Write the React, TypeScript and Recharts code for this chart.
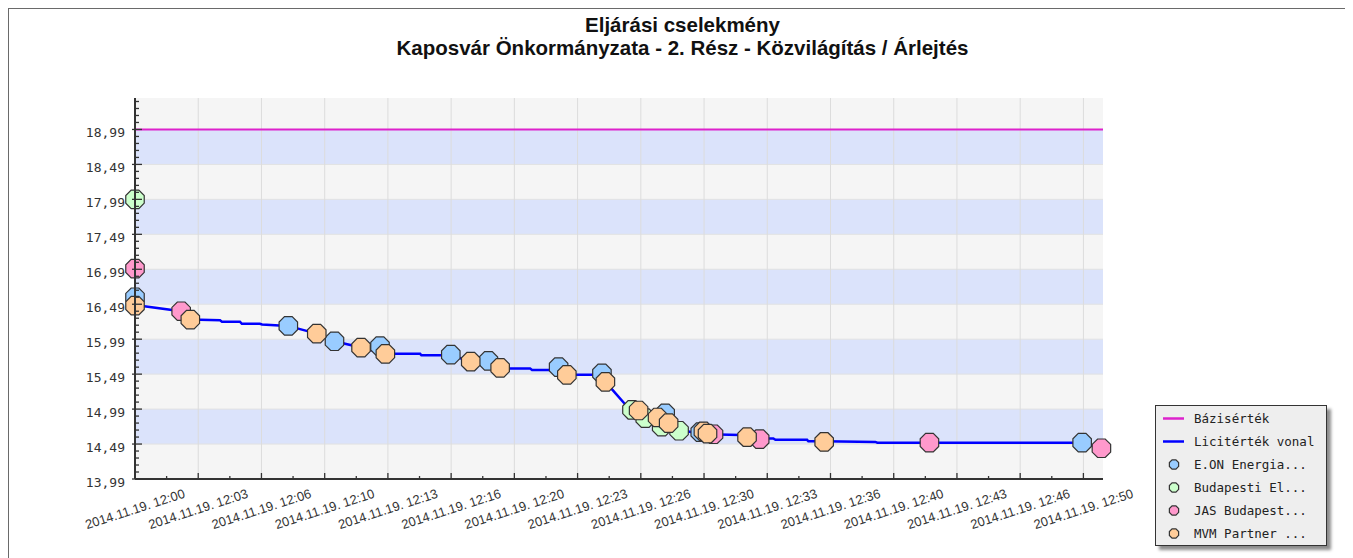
import React from 'react';
import {
  ComposedChart,
  Line,
  Scatter,
  XAxis,
  YAxis,
  ReferenceArea,
  ReferenceLine,
  Legend,
} from 'recharts';

const chartTitle = 'Eljárási cselekmény';
const chartSubtitle = 'Kaposvár Önkormányzata - 2. Rész - Közvilágítás / Árlejtés';

// Bázisérték
const baseValue = 18.99;

// Licitérték vonal (running best bid)
const licitTimes = [
  '12:00:00', '12:02:26', '12:02:54', '12:04:29', '12:04:35', '12:05:32', '12:05:38', '12:06:35',
  '12:06:42', '12:08:04', '12:09:35', '12:10:31', '12:11:55', '12:13:12', '12:15:02', '12:15:06',
  '12:16:39', '12:17:42', '12:18:38', '12:19:17', '12:20:50', '12:20:56', '12:22:19', '12:22:46',
  '12:24:10', '12:24:48', '12:25:56', '12:26:32', '12:27:32', '12:28:07', '12:28:41', '12:29:48',
  '12:30:10', '12:31:55', '12:32:16', '12:32:56', '12:33:39', '12:33:46', '12:35:26', '12:35:30',
  '12:36:20', '12:39:02', '12:39:08', '12:49:56', '12:50:57',
];
const licitValues = [
  16.48, 16.39, 16.27, 16.26, 16.24, 16.24, 16.21, 16.21,
  16.2, 16.18, 16.07, 15.96, 15.87, 15.78, 15.78, 15.76,
  15.76, 15.67, 15.67, 15.57, 15.57, 15.55, 15.55, 15.48,
  15.48, 15.38, 15.03, 14.97, 14.87, 14.78, 14.69, 14.64,
  14.63, 14.62, 14.59, 14.57, 14.57, 14.55, 14.55, 14.53,
  14.53, 14.52, 14.51, 14.51, 14.43,
];

// bidders
const eonTimes = ['12:00:00', '12:08:05', '12:10:31', '12:12:55', '12:16:39', '12:18:38', '12:22:20', '12:24:37', '12:27:57', '12:29:48', '12:49:56'];
const eonValues = [16.59, 16.18, 15.96, 15.89, 15.77, 15.68, 15.59, 15.5, 14.93, 14.66, 14.51];

const budTimes = ['12:00:00', '12:26:12', '12:26:54', '12:27:46', '12:28:41'];
const budValues = [17.99, 14.98, 14.86, 14.74, 14.68];

const jasTimes = ['12:00:00', '12:02:26', '12:30:30', '12:32:56', '12:41:53', '12:50:57'];
const jasValues = [17.0, 16.39, 14.63, 14.56, 14.51, 14.43];

const mvmTimes = [
  '12:00:00', '12:02:55', '12:09:35', '12:11:55', '12:13:12', '12:17:42', '12:19:15', '12:22:46',
  '12:24:48', '12:26:33', '12:27:33', '12:28:08', '12:29:58', '12:30:11', '12:32:16', '12:36:20',
];
const mvmValues = [16.47, 16.27, 16.07, 15.87, 15.78, 15.67, 15.58, 15.48, 15.38, 14.97, 14.87, 14.79, 14.67, 14.64, 14.59, 14.52];

// axes
const xTickTimes = [
  '12:00:00', '12:03:20', '12:06:40', '12:10:00', '12:13:20', '12:16:40', '12:20:00', '12:23:20',
  '12:26:40', '12:30:00', '12:33:20', '12:36:40', '12:40:00', '12:43:20', '12:46:40', '12:50:00',
];
const xTickLabels = [
  '2014.11.19. 12:00', '2014.11.19. 12:03', '2014.11.19. 12:06', '2014.11.19. 12:10',
  '2014.11.19. 12:13', '2014.11.19. 12:16', '2014.11.19. 12:20', '2014.11.19. 12:23',
  '2014.11.19. 12:26', '2014.11.19. 12:30', '2014.11.19. 12:33', '2014.11.19. 12:36',
  '2014.11.19. 12:40', '2014.11.19. 12:43', '2014.11.19. 12:46', '2014.11.19. 12:50',
];
const xEndTime = '12:51:02';

const yTickLabels = ['13,99', '14,49', '14,99', '15,49', '15,99', '16,49', '16,99', '17,49', '17,99', '18,49', '18,99'];
const yTop = 19.44;

const toSec = (s: string) => {
  const [h, m, sec] = s.split(':').map(Number);
  return (h - 12) * 3600 + m * 60 + sec;
};
const toPoints = (times: string[], values: number[]) => times.map((t, i) => ({ t: toSec(t), v: values[i] }));

const licitData = toPoints(licitTimes, licitValues);
const eonData = toPoints(eonTimes, eonValues);
const budData = toPoints(budTimes, budValues);
const jasData = toPoints(jasTimes, jasValues);
const mvmData = toPoints(mvmTimes, mvmValues);

const xMajor = xTickTimes.map(toSec);
const xEnd = toSec(xEndTime);
const xMinor = xMajor.slice(0, -1).map((s, i) => (s + xMajor[i + 1]) / 2);
const xTicks = [...xMajor, ...xMinor].sort((a, b) => a - b);

const yMajor = yTickLabels.map((l) => parseFloat(l.replace(',', '.')));
const yTicks: number[] = [];
for (let i = 0; yMajor[0] + i * 0.1 <= yTop; i++) yTicks.push(Math.round((yMajor[0] + i * 0.1) * 100) / 100);
const blueBands = yMajor.slice(0, -1).map((v, i) => [v, yMajor[i + 1]]).filter((_, i) => i % 2 === 1);

const COLORS = {
  eon: '#99ccff',
  bud: '#ccffcc',
  jas: '#ff99cc',
  mvm: '#ffcc99',
  base: '#dd22cc',
  licit: '#0000ff',
};

const octagon = (r: number) => (props: any) => {
  const { cx, cy, fill } = props;
  if (cx == null || cy == null) return <g />;
  const pts = Array.from({ length: 8 }, (_, i) => {
    const a = Math.PI / 8 + (i * Math.PI) / 4;
    return `${cx + r * Math.cos(a)},${cy + r * Math.sin(a)}`;
  }).join(' ');
  return <polygon points={pts} fill={fill} stroke="#333" strokeWidth={1.2} />;
};

const YTick = (props: any) => {
  const { x, y, payload } = props;
  const idx = yMajor.findIndex((m) => Math.abs(m - payload.value) < 1e-6);
  const major = idx >= 0;
  return (
    <g>
      <line x1={major ? x - 3 : x} x2={x + (major ? 7 : 4)} y1={y} y2={y} stroke="#333" strokeWidth={1.3} />
      {major && (
        <text x={x - 10} y={y + 3} textAnchor="end" dominantBaseline="central" fill="#333"
          style={{ fontFamily: '"DejaVu Sans Mono", monospace', fontSize: 13 }}>
          {yTickLabels[idx]}
        </text>
      )}
    </g>
  );
};

const XTick = (props: any) => {
  const { x, y, payload } = props;
  const idx = xMajor.indexOf(payload.value);
  const major = idx >= 0;
  const ly = y + 30;
  return (
    <g>
      <line x1={x} x2={x} y1={y} y2={y - (major ? 6 : 3)} stroke="#333" strokeWidth={1.3} />
      {major && (
        <text x={x} y={ly} textAnchor="middle" dominantBaseline="central" fill="#333"
          transform={`rotate(-18 ${x} ${ly})`}
          style={{ fontFamily: '"Liberation Sans", Arial, sans-serif', fontSize: 13 }}>
          {xTickLabels[idx]}
        </text>
      )}
    </g>
  );
};

const legendItems = [
  { name: 'Bázisérték', color: COLORS.base, kind: 'line' },
  { name: 'Licitérték vonal', color: COLORS.licit, kind: 'line' },
  { name: 'E.ON Energia...', color: COLORS.eon, kind: 'marker' },
  { name: 'Budapesti El...', color: COLORS.bud, kind: 'marker' },
  { name: 'JAS Budapest...', color: COLORS.jas, kind: 'marker' },
  { name: 'MVM Partner ...', color: COLORS.mvm, kind: 'marker' },
];

const LegendBox = () => (
  <div
    style={{
      width: 170,
      height: 137,
      border: '1px solid #333',
      background: '#eeeeee',
      boxShadow: '4px 4px 3px rgba(0,0,0,0.45)',
      padding: '1px 0',
      boxSizing: 'content-box',
    }}
  >
    {legendItems.map((it) => (
      <div key={it.name} style={{ height: 23, display: 'flex', alignItems: 'center' }}>
        <svg width={38} height={23} style={{ flex: 'none' }}>
          {it.kind === 'line' ? (
            <line x1={7} x2={28} y1={11.5} y2={11.5} stroke={it.color} strokeWidth={2.5} />
          ) : (
            octagon(5)({ cx: 18, cy: 11.5, fill: it.color })
          )}
        </svg>
        <span style={{ fontFamily: '"DejaVu Sans Mono", monospace', fontSize: 12.5, color: '#222', whiteSpace: 'pre' }}>
          {it.name}
        </span>
      </div>
    ))}
  </div>
);

export default function App() {
  return (
    <div
      style={{
        position: 'relative',
        width: 1336,
        height: 570,
        border: '1px solid #6a6a6a',
        boxShadow: '0 0 6px 2px rgba(0,0,0,0.25)',
        background: '#fff',
        fontFamily: '"Liberation Sans", Arial, sans-serif',
      }}
    >
      <style>{'html,body{overflow:hidden}'}</style>
      <div
        style={{
          position: 'absolute',
          top: 4,
          left: 0,
          width: 1336,
          paddingLeft: 11,
          boxSizing: 'border-box',
          textAlign: 'center',
          fontWeight: 'bold',
          fontSize: 20.5,
          lineHeight: '23px',
          color: '#111',
        }}
      >
        <div>{chartTitle}</div>
        <div>{chartSubtitle}</div>
      </div>
      <ComposedChart width={1336} height={540} margin={{ top: 89, right: 242, bottom: 0, left: 46 }}>
        <XAxis
          type="number"
          dataKey="t"
          domain={[0, xEnd]}
          ticks={xTicks}
          interval={0}
          tickSize={0}
          tickMargin={0}
          tickLine={false}
          tick={<XTick />}
          height={70}
          axisLine={{ stroke: '#333', strokeWidth: 2 }}
        />
        <YAxis
          type="number"
          dataKey="v"
          domain={[yMajor[0], yTop]}
          ticks={yTicks}
          interval={0}
          tickSize={0}
          tickMargin={0}
          tickLine={false}
          tick={<YTick />}
          width={80}
          axisLine={{ stroke: '#333', strokeWidth: 2 }}
        />
        <ReferenceArea y1={yMajor[0]} y2={yTop} fill="#f5f5f5" fillOpacity={1} stroke="none" />
        {blueBands.map(([a, b]) => (
          <ReferenceArea key={a} y1={a} y2={b} fill="#dbe3fb" fillOpacity={1} stroke="none" />
        ))}
        {yMajor.slice(1).map((v) => (
          <ReferenceLine key={`h${v}`} y={v} stroke="#e2e2e2" strokeWidth={1} />
        ))}
        {xMajor.slice(1).map((s) => (
          <ReferenceLine key={`v${s}`} x={s} stroke="#dcdcdc" strokeWidth={1} />
        ))}
        <ReferenceLine y={baseValue} stroke={COLORS.base} strokeWidth={2} />
        <Line
          data={licitData}
          dataKey="v"
          type="linear"
          stroke={COLORS.licit}
          strokeWidth={2.5}
          dot={false}
          activeDot={false}
          isAnimationActive={false}
        />
        <Scatter data={eonData} dataKey="v" fill={COLORS.eon} shape={octagon(10)} isAnimationActive={false} zIndex={450} />
        <Scatter data={budData} dataKey="v" fill={COLORS.bud} shape={octagon(10)} isAnimationActive={false} zIndex={450} />
        <Scatter data={jasData} dataKey="v" fill={COLORS.jas} shape={octagon(10)} isAnimationActive={false} zIndex={450} />
        <Scatter data={mvmData} dataKey="v" fill={COLORS.mvm} shape={octagon(10)} isAnimationActive={false} zIndex={450} />
        <Legend
          layout="horizontal"
          verticalAlign="middle"
          align="center"
          wrapperStyle={{ left: 1146, top: 396, width: 180, height: 145 }}
          content={() => <LegendBox />}
        />
      </ComposedChart>
    </div>
  );
}
